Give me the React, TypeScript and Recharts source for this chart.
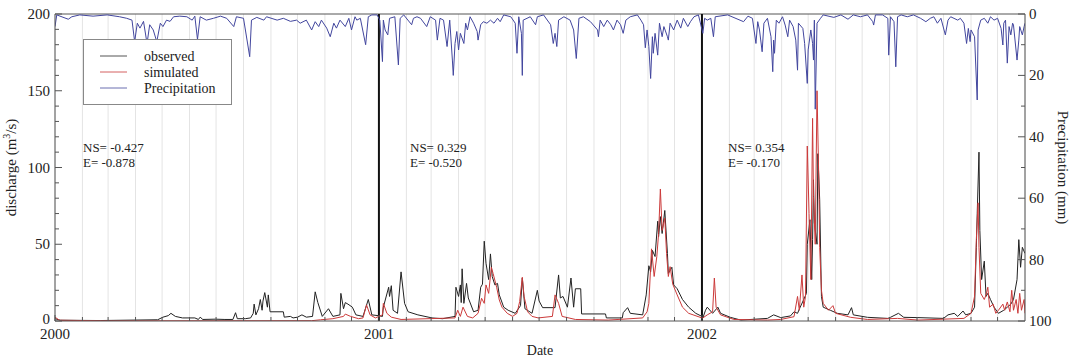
import React from 'react';
import { LineChart, Line, XAxis, YAxis, CartesianGrid, ReferenceLine } from 'recharts';

// day index from 2000-01-01
const monthStarts = [
  0, 31, 60, 91, 121, 152, 182, 213, 244, 274, 305, 335,
  366, 397, 425, 456, 486, 517, 547, 578, 609, 639, 670, 700,
  731, 762, 790, 821, 851, 882, 912, 943, 974, 1004, 1035, 1065,
];
const yearStarts = [0, 366, 731];
const yearLabels = ['2000', '2001', '2002'];
const dischargeTicks = [0, 10, 20, 30, 40, 50, 60, 70, 80, 90, 100, 110, 120, 130, 140, 150, 160, 170, 180, 190, 200];
const precipTicks = [0, 10, 20, 30, 40, 50, 60, 70, 80, 90, 100];

const nsValues = ['-0.427', '0.329', '0.354'];
const eValues = ['-0.878', '-0.520', '-0.170'];

const observed: [number, number][] = [
  [0, 1.5], [6, 0.5], [51, 0.3], [116, 0.8], [122, 2.5], [128, 3.5], [131, 5], [136, 3], [144, 2], [158, 2],
  [162, 1], [164, 2.5], [167, 1], [181, 1.2], [192, 1], [201, 1], [204, 5.4], [206, 1.5], [215, 1.5], [221, 2],
  [224, 5], [225, 11], [227, 4], [230, 8], [232, 14], [234, 7], [235, 13], [237, 18.5], [240, 9], [241, 17],
  [243, 6], [258, 6], [259, 2.5], [266, 3], [269, 2], [274, 2.5], [279, 4], [284, 2.5], [291, 3], [294, 19],
  [297, 12], [302, 3], [309, 8], [314, 3], [322, 4], [323, 18], [326, 8], [328, 12], [331, 11], [336, 9],
  [340, 4], [348, 3], [354, 14], [358, 4], [365, 3.5],
  [370, 3], [371, 9], [377, 22], [378, 16], [380, 23], [382, 7], [387, 5], [391, 32], [395, 11.5], [399, 6],
  [410, 4], [426, 2], [438, 1.5], [452, 3], [453, 22], [456, 16], [458, 23.5], [459, 12], [460, 34], [462, 11.5],
  [465, 24.5], [467, 15], [473, 6], [478, 7], [481, 22], [483, 24], [485, 52], [487, 37.6], [490, 27], [492, 43.7],
  [494, 29], [497, 23.5], [500, 24.5], [502, 17], [507, 9], [512, 7], [520, 5], [526, 10], [528, 28], [531, 8],
  [539, 5], [545, 20], [547, 13], [551, 8.7], [565, 8.7], [569, 30], [571, 15], [574, 16], [579, 9], [583, 28],
  [586, 9], [588, 21], [594, 21], [595, 4.6], [622, 4.6], [623, 2], [641, 2], [642, 5.4], [647, 8.7], [650, 5],
  [664, 4], [668, 17], [671, 36], [673, 32], [675, 46], [678, 42], [681, 65], [682, 55], [684, 68], [686, 57],
  [689, 72], [692, 44], [693, 31], [697, 35], [699, 23.5], [703, 21], [709, 14], [716, 9], [724, 5], [731, 3],
  [732, 2], [735, 7], [737, 9], [743, 5], [749, 9], [752, 5], [763, 2.4], [775, 0.6], [805, 1.7], [812, 4],
  [820, 2.2], [831, 3.3], [835, 6], [839, 5], [842, 9], [846, 14], [849, 18], [850, 50], [853, 66], [855, 27],
  [856, 53], [857, 92], [858, 64], [861, 50], [862, 109], [864, 79], [866, 16], [868, 9], [876, 7], [884, 5],
  [896, 4], [900, 8.7], [902, 4], [918, 2.4], [941, 1.7], [944, 2.4], [953, 5], [959, 2.4], [975, 2.2], [1004, 1.7],
  [1009, 4], [1016, 5], [1020, 3], [1026, 6.5], [1029, 4], [1035, 5], [1039, 9], [1041, 48], [1042, 70], [1044, 110],
  [1045, 59], [1047, 27], [1050, 39], [1052, 16], [1054, 18], [1057, 14], [1061, 9], [1066, 5], [1072, 7], [1076, 9],
  [1080, 11], [1083, 14], [1087, 27], [1089, 53], [1091, 35], [1093, 48], [1096, 44],
];

const simulated: [number, number][] = [
  [0, 2.5], [5, 0.5], [60, 0.1], [290, 0.2], [300, 0.8], [314, 1.5], [326, 3], [328, 4.5], [334, 3], [343, 1.5],
  [348, 2], [352, 10.5], [356, 4], [362, 2],
  [370, 4], [371, 11.5], [375, 5], [380, 2.5], [391, 1], [452, 2], [455, 7], [458, 3], [461, 9], [466, 3],
  [472, 2], [478, 5], [482, 14.8], [485, 11.5], [487, 23.5], [490, 18], [493, 35], [495, 31], [499, 22], [502, 13.7],
  [505, 9], [511, 5], [517, 3], [522, 5], [525, 12.6], [528, 28.5], [530, 16], [534, 6], [539, 3], [546, 2],
  [562, 3], [565, 17], [569, 11.5], [573, 3], [588, 1], [625, 0.6], [664, 2], [669, 6], [671, 11.5], [674, 47],
  [677, 29], [680, 42], [682, 57], [684, 86], [686, 59], [689, 67], [691, 44], [693, 29], [695, 35.4], [698, 24],
  [703, 17], [709, 9], [716, 5], [731, 2],
  [732, 2], [737, 4], [743, 6], [745, 28], [747, 9], [752, 4], [767, 1], [805, 0.6], [820, 1], [835, 2.8],
  [839, 16], [841, 7], [844, 30], [846, 9], [848, 16], [850, 114], [852, 70], [854, 27], [856, 132], [857, 81],
  [859, 50], [861, 150], [863, 92], [864, 48], [866, 20], [868, 11.5], [874, 7], [879, 10], [882, 5], [899, 2.4],
  [918, 1], [952, 1.7], [975, 0.6], [1027, 1.7], [1035, 5], [1039, 16], [1041, 53], [1043, 77], [1044, 48], [1046, 18],
  [1050, 14], [1052, 17], [1054, 22], [1056, 9], [1060, 11], [1063, 5], [1066, 7], [1071, 11], [1073, 7], [1076, 12.4],
  [1079, 6], [1081, 20], [1083, 7], [1086, 14], [1088, 5], [1090, 18], [1092, 7], [1095, 14], [1096, 5],
];

const precipitation: [number, number][] = [
  [0, 4.1], [2, 0.3], [15, 1.7], [19, 0.9], [28, 0.3], [43, 0.7], [59, 0.3], [73, 0.9], [81, 1.4], [87, 2],
  [90, 9], [93, 3], [96, 4.6], [100, 2.4], [104, 9.6], [107, 3.5], [111, 5.2], [115, 9], [119, 3], [122, 4.1],
  [126, 2], [130, 2.4], [134, 0.9], [141, 0.7], [149, 0.9], [155, 2], [158, 0.7], [161, 8.3], [164, 0.9], [171, 2],
  [179, 1.4], [187, 0.7], [194, 1.4], [202, 4.1], [205, 0.9], [213, 1.4], [220, 13.9], [222, 2], [228, 1.1], [236, 2],
  [239, 0.9], [251, 2], [258, 1.4], [266, 2.4], [273, 2], [277, 3], [284, 2], [290, 5.2], [294, 2.5], [298, 4.1],
  [301, 2], [307, 4.6], [311, 7.4], [315, 3], [318, 4.6], [322, 2], [328, 4.1], [332, 1.4], [335, 5.2], [339, 0.9],
  [341, 2], [345, 1.4], [351, 10], [354, 0.9], [358, 0.3], [364, 0.3],
  [367, 2], [370, 15.5], [371, 2], [373, 5.2], [376, 6.8], [378, 1.4], [384, 0.9], [388, 16.6], [390, 1.4], [394, 0.3],
  [403, 3.5], [405, 1.4], [409, 0.9], [413, 1.4], [420, 4.1], [424, 0.9], [430, 2], [432, 8.5], [435, 1.4], [439, 2],
  [443, 10.6], [446, 2], [449, 15], [450, 20], [452, 9.6], [454, 5.7], [456, 11.7], [458, 6.3], [462, 9.6], [464, 3],
  [466, 5.2], [469, 0.9], [473, 3], [477, 5.7], [478, 8.5], [481, 3.5], [484, 2.5], [488, 3], [492, 2], [496, 3],
  [500, 1.4], [503, 2.5], [507, 0.3], [515, 0.9], [520, 3], [522, 12.8], [524, 0.9], [527, 6.3], [528, 20], [529, 2],
  [537, 0.9], [543, 3.5], [545, 0.9], [552, 0.3], [560, 3.5], [563, 9.6], [565, 6.3], [567, 10.6], [569, 2], [575, 0.9],
  [582, 2], [586, 5.2], [589, 14.5], [592, 1.4], [597, 0.9], [605, 2.5], [613, 5.2], [614, 7.4], [616, 2], [620, 4.1],
  [624, 2], [628, 3.5], [631, 5.2], [635, 2], [639, 3.5], [642, 6.3], [645, 2], [650, 0.9], [658, 0.3], [662, 2],
  [665, 3.5], [667, 11], [669, 5.2], [671, 10.6], [673, 21], [675, 7.4], [676, 12.8], [678, 6.3], [681, 13.4], [683, 3],
  [686, 7.4], [688, 4.1], [692, 7.4], [693, 8.5], [695, 3], [699, 5.2], [703, 2], [707, 4.6], [710, 1.4], [715, 4.1],
  [718, 2.5], [722, 0.9], [727, 0.3],
  [732, 6.3], [734, 1.4], [737, 2], [741, 1.4], [744, 7.4], [746, 0.9], [760, 0.3], [778, 2.5], [783, 0.7], [788, 1.4],
  [792, 9.6], [794, 2.5], [796, 5.2], [799, 12.3], [801, 3], [805, 1.4], [809, 7.4], [811, 18.8], [812, 8.5], [813, 12.8],
  [815, 2], [818, 3], [822, 0.9], [825, 3.6], [828, 7.4], [830, 2], [834, 4.1], [837, 8.5], [839, 18.3], [840, 3],
  [845, 4.7], [847, 9.6], [850, 22.6], [851, 11.7], [854, 5.2], [856, 9.6], [857, 15], [858, 2], [859, 31], [861, 3],
  [865, 1.4], [868, 0.3], [880, 1.1], [888, 0.3], [896, 1.7], [902, 0.3], [910, 0.9], [918, 0.3], [924, 2.5], [925, 3.6],
  [927, 0.3], [935, 0.3], [941, 1.4], [942, 13.4], [944, 0.9], [948, 2.5], [950, 17.2], [952, 0.9], [956, 0.3], [963, 0.9],
  [970, 0.3], [978, 1.4], [984, 2.5], [989, 1.4], [993, 0.9], [997, 3], [1001, 1.4], [1006, 6.8], [1009, 2], [1012, 0.9],
  [1020, 2], [1023, 1.4], [1027, 3], [1030, 9.6], [1032, 4.7], [1034, 9], [1035, 5.2], [1039, 7.4], [1042, 28], [1043, 5.2],
  [1046, 2], [1050, 1.4], [1054, 3], [1057, 0.9], [1061, 2], [1065, 1.4], [1069, 4.7], [1071, 10.1], [1072, 3], [1074, 2],
  [1076, 16], [1078, 4.1], [1080, 6.8], [1082, 3], [1083, 3.6], [1087, 15], [1089, 8.5], [1090, 4.1], [1093, 6.8], [1095, 4.1],
  [1096, 3],
];

const toRows = (arr: [number, number][]) => arr.map(([d, v]) => ({ d, v }));
const observedRows = toRows(observed);
const simulatedRows = toRows(simulated);
const precipRows = toRows(precipitation);

const FONT = 'Liberation Serif, Times New Roman, DejaVu Serif, serif';
const TXT = { fontFamily: FONT };
const AXIS = '#555';
const OBS = '#222222';
const SIM = '#cc3a3a';
const PRE = '#42469e';

const LeftTick = (props: any) => {
  const { x, y, payload } = props;
  const major = payload.value % 50 === 0;
  return (
    <g>
      <line x1={x} x2={x + (major ? 7 : 4)} y1={y} y2={y} stroke={AXIS} />
      {major && (
        <text x={x - 5} y={payload.value === 0 ? y + 3 : y + 5} textAnchor="end" fontSize={15} style={TXT} fill="#222">
          {payload.value}
        </text>
      )}
    </g>
  );
};

const RightTick = (props: any) => {
  const { x, y, payload } = props;
  const major = payload.value % 20 === 0;
  return (
    <g>
      <line x1={x} x2={x - (major ? 7 : 4)} y1={y} y2={y} stroke={AXIS} />
      {major && (
        <text x={x + 4} y={y + 5} textAnchor="start" fontSize={15} style={TXT} fill="#222">
          {payload.value}
        </text>
      )}
    </g>
  );
};

const BottomTick = (props: any) => {
  const { x, y, payload } = props;
  const idx = yearStarts.indexOf(payload.value);
  return (
    <g>
      <line x1={x} x2={x} y1={y} y2={y - (idx >= 0 ? 6 : 4)} stroke={AXIS} />
      {idx >= 0 && (
        <text x={x} y={y + 18} textAnchor="middle" fontSize={15} style={TXT} fill="#222">
          {yearLabels[idx]}
        </text>
      )}
    </g>
  );
};

const legendItems = [
  { name: 'observed', color: '#555' },
  { name: 'simulated', color: '#d46060' },
  { name: 'Precipitation', color: '#6a6eb0' },
];

const statsX = [83, 410, 728];

export default function App() {
  return (
    <div style={{ position: 'absolute', left: 0, top: 0, width: 1071, height: 358, background: '#fff' }}>
      <LineChart width={1071} height={358} margin={{ top: 14, right: 0, bottom: 0, left: 0 }}>
        <CartesianGrid horizontal={false} stroke="#e4e4e4" strokeWidth={1} />
        <XAxis
          type="number"
          dataKey="d"
          domain={[0, 1096]}
          ticks={monthStarts}
          interval={0}
          height={37}
          tickSize={0}
          tickMargin={0}
          tick={<BottomTick />}
          axisLine={{ stroke: AXIS }}
          tickLine={false}
          allowDataOverflow
          label={{
            content: ({ viewBox }: any) => (
              <text x={viewBox.x + viewBox.width / 2} y={355} textAnchor="middle" fontSize={14} style={TXT} fill="#222">
                Date
              </text>
            ),
          }}
        />
        <YAxis
          yAxisId="left"
          orientation="left"
          width={55}
          domain={[0, 200]}
          ticks={dischargeTicks}
          interval={0}
          tickSize={0}
          tickMargin={0}
          tick={<LeftTick />}
          tickLine={false}
          axisLine={{ stroke: AXIS }}
          allowDataOverflow
          label={{
            content: ({ viewBox }: any) => (
              <text
                x={viewBox.x + 16}
                y={viewBox.y + viewBox.height / 2}
                transform={`rotate(-90, ${viewBox.x + 16}, ${viewBox.y + viewBox.height / 2})`}
                textAnchor="middle"
                fontSize={15}
                style={TXT}
                fill="#222"
              >
                discharge (m<tspan dy={-6} fontSize={10}>3</tspan><tspan dy={6}>/s)</tspan>
              </text>
            ),
          }}
        />
        <YAxis
          yAxisId="right"
          orientation="right"
          width={46}
          domain={[0, 100]}
          reversed
          ticks={precipTicks}
          interval={0}
          tickSize={0}
          tickMargin={0}
          tick={<RightTick />}
          tickLine={false}
          axisLine={{ stroke: AXIS }}
          allowDataOverflow
          label={{
            content: ({ viewBox }: any) => (
              <text
                x={viewBox.x + 33}
                y={viewBox.y + viewBox.height / 2}
                transform={`rotate(90, ${viewBox.x + 33}, ${viewBox.y + viewBox.height / 2})`}
                textAnchor="middle"
                fontSize={15}
                style={TXT}
                fill="#222"
              >
                Precipitation (mm)
              </text>
            ),
          }}
        />
        <ReferenceLine yAxisId="left" y={200} stroke={AXIS} />
        {yearStarts.slice(1).map((d) => (
          <ReferenceLine key={d} yAxisId="left" x={d} stroke="#111" strokeWidth={2} />
        ))}
        <Line
          yAxisId="left"
          data={observedRows}
          dataKey="v"
          type="linear"
          stroke={OBS}
          strokeWidth={1}
          dot={false}
          isAnimationActive={false}
        />
        <Line
          yAxisId="left"
          data={simulatedRows}
          dataKey="v"
          type="linear"
          stroke={SIM}
          strokeWidth={1}
          dot={false}
          isAnimationActive={false}
        />
        <Line
          yAxisId="right"
          data={precipRows}
          dataKey="v"
          type="linear"
          stroke={PRE}
          strokeWidth={1}
          dot={false}
          isAnimationActive={false}
        />
      </LineChart>
      <svg
        width={1071}
        height={358}
        style={{ position: 'absolute', left: 0, top: 0, pointerEvents: 'none', fontFamily: FONT }}
      >
        <rect x={83.5} y={39.5} width={148} height={65} fill="#fff" stroke="#888" />
        {legendItems.map((it, i) => (
          <g key={it.name}>
            <line x1={100} x2={127} y1={56 + i * 16} y2={56 + i * 16} stroke={it.color} strokeWidth={1} />
            <text x={144} y={61 + i * 16} fontSize={14} fill="#222">
              {it.name}
            </text>
          </g>
        ))}
        {statsX.map((x, i) => (
          <g key={x}>
            <text x={x} y={152} fontSize={13} fill="#222">{`NS= ${nsValues[i]}`}</text>
            <text x={x} y={166.5} fontSize={13} fill="#222">{`E= ${eValues[i]}`}</text>
          </g>
        ))}
      </svg>
    </div>
  );
}
